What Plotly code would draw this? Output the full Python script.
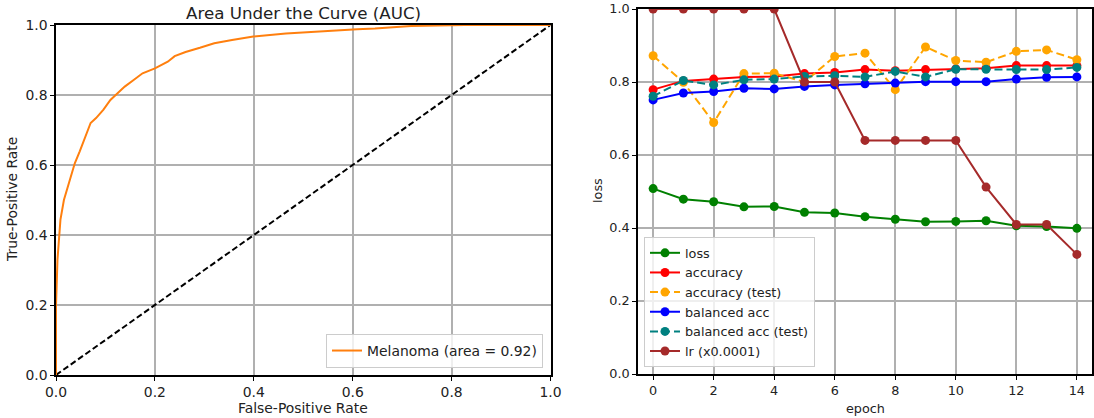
import plotly.graph_objects as go

# ROC curve (false-positive rate vs true-positive rate)
fpr = [0.0, 0.0, 0.003, 0.009, 0.016, 0.027, 0.038, 0.048, 0.059, 0.070, 0.081,
       0.096, 0.110, 0.124, 0.139, 0.157, 0.175, 0.200, 0.226, 0.240, 0.262,
       0.291, 0.320, 0.356, 0.399, 0.465, 0.537, 0.609, 0.645, 0.718, 0.826, 1.0]
tpr = [0.0, 0.197, 0.33, 0.444, 0.50, 0.556, 0.605, 0.639, 0.681, 0.72, 0.734,
       0.758, 0.786, 0.805, 0.824, 0.843, 0.862, 0.876, 0.895, 0.911, 0.923,
       0.935, 0.948, 0.957, 0.967, 0.976, 0.983, 0.988, 0.990, 0.997, 1.0, 1.0]
roc_label = "Melanoma (area = 0.92)"

# Training history per epoch
epochs = list(range(15))
loss = [0.508, 0.479, 0.472, 0.458, 0.459, 0.443, 0.441, 0.431, 0.424, 0.417,
        0.418, 0.420, 0.406, 0.404, 0.399]
accuracy = [0.779, 0.803, 0.808, 0.814, 0.815, 0.823, 0.826, 0.834, 0.831, 0.834,
            0.836, 0.838, 0.845, 0.845, 0.845]
accuracy_test = [0.872, 0.799, 0.689, 0.823, 0.824, 0.800, 0.870, 0.879, 0.779, 0.896,
                 0.859, 0.854, 0.884, 0.888, 0.861]
balanced_acc = [0.751, 0.770, 0.774, 0.783, 0.781, 0.788, 0.792, 0.795, 0.797, 0.801,
                0.801, 0.801, 0.808, 0.813, 0.814]
balanced_acc_test = [0.761, 0.804, 0.792, 0.806, 0.808, 0.815, 0.817, 0.814, 0.829, 0.814,
                     0.835, 0.835, 0.834, 0.834, 0.840]
lr_scaled = [1.0, 1.0, 1.0, 1.0, 1.0, 0.8, 0.8, 0.64, 0.64, 0.64,
             0.64, 0.512, 0.4096, 0.4096, 0.32768]

FONT = "DejaVu Sans"
TEXT = "#222"
GRID = "#b0b0b0"
W, H = 1094, 418
L_SIZE = 13.9   # left panel text size
R_SIZE = 12.8   # right panel text size

fig = go.Figure()

# Left panel: ROC curve
fig.add_trace(go.Scatter(
    x=[0, 1], y=[0, 1], mode="lines", showlegend=False,
    line=dict(color="black", width=2, dash="6px,3px"),
    xaxis="x", yaxis="y"))
fig.add_trace(go.Scatter(
    x=fpr, y=tpr, mode="lines", name=roc_label,
    line=dict(color="#ff7f0e", width=2),
    xaxis="x", yaxis="y", legend="legend"))

# Right panel: training history
series = [
    ("loss", loss, "green", "solid"),
    ("accuracy", accuracy, "red", "solid"),
    ("accuracy (test)", accuracy_test, "orange", "8px,4px"),
    ("balanced acc", balanced_acc, "blue", "solid"),
    ("balanced acc (test)", balanced_acc_test, "teal", "8px,4px"),
    ("lr (x0.0001)", lr_scaled, "brown", "solid"),
]
for name, vals, color, dash in series:
    fig.add_trace(go.Scatter(
        x=epochs, y=vals, mode="lines+markers", name=name,
        line=dict(color=color, width=2, dash=dash),
        marker=dict(color=color, size=9),
        xaxis="x2", yaxis="y2", legend="legend2"))


def axis_style(size):
    return dict(
        showline=True, mirror=True, linecolor="black", linewidth=1.5,
        ticks="outside", ticklen=4, tickcolor="black",
        showgrid=True, gridcolor=GRID, gridwidth=1.5, zeroline=False,
        automargin=False,
        tickfont=dict(family=FONT, size=size, color=TEXT),
    )


def label(text, x_px, y_px, size, angle=0):
    return dict(text=text, x=x_px / W, y=1 - y_px / H, xref="paper", yref="paper",
                xanchor="center", yanchor="middle",
                showarrow=False, textangle=angle,
                font=dict(family=FONT, size=size, color=TEXT))


unit_ticks = [0, 0.2, 0.4, 0.6, 0.8, 1.0]

fig.update_layout(
    width=W, height=H,
    margin=dict(l=0, r=0, t=0, b=0),
    paper_bgcolor="white", plot_bgcolor="white",
    font=dict(family=FONT, size=12, color=TEXT),
    xaxis=dict(domain=[56 / W, 550.5 / W], range=[0, 1], tickvals=unit_ticks,
               tickformat=".1f", anchor="y", **axis_style(L_SIZE)),
    yaxis=dict(domain=[1 - 375 / H, 1 - 25 / H], range=[0, 1], tickvals=unit_ticks,
               tickformat=".1f", anchor="x", **axis_style(L_SIZE)),
    xaxis2=dict(domain=[638 / W, 1092 / W], range=[-0.5, 14.5],
                tickvals=list(range(0, 15, 2)), anchor="y2", **axis_style(R_SIZE)),
    yaxis2=dict(domain=[1 - 374 / H, 1 - 9 / H], range=[0, 1], tickvals=unit_ticks,
                tickformat=".1f", anchor="x2", **axis_style(R_SIZE)),
    legend=dict(x=543 / W, y=1 - 368 / H, xanchor="right", yanchor="bottom",
                bgcolor="rgba(255,255,255,0.8)", bordercolor="#cccccc", borderwidth=1,
                font=dict(family=FONT, size=L_SIZE, color=TEXT), itemwidth=30),
    legend2=dict(x=644 / W, y=1 - 367 / H, xanchor="left", yanchor="bottom",
                 bgcolor="rgba(255,255,255,0.8)", bordercolor="#cccccc", borderwidth=1,
                 font=dict(family=FONT, size=R_SIZE, color=TEXT), itemwidth=30,
                 tracegroupgap=0),
    annotations=[
        label("Area Under the Curve (AUC)", 303, 13, 16.7),
        label("False-Positive Rate", 303, 408, L_SIZE),
        label("True-Positive Rate", 12, 200, L_SIZE, angle=-90),
        label("epoch", 865, 408, R_SIZE),
        label("loss", 597, 191, R_SIZE, angle=-90),
    ],
)

fig.write_html("out.html")
